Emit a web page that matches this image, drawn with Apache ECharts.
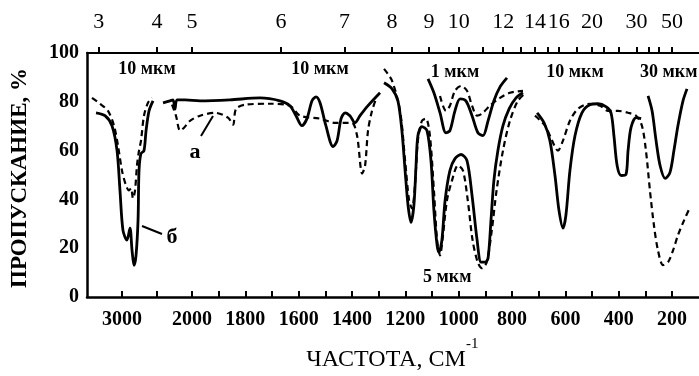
<!DOCTYPE html>
<html><head><meta charset="utf-8">
<script src="https://cdn.jsdelivr.net/npm/echarts@6/dist/echarts.min.js"></script>
<style>html,body{margin:0;padding:0;background:#fff}#c{width:699px;height:376px}</style>
</head><body><div id="c"></div>
<script>
// ---- axes data ----
const bottomTickFreqs = [3000,2500,2000,1900,1800,1700,1600,1500,1400,1300,1200,1100,1000,900,800,700,600,500,400,300,200];
const bottomLabelFreqs = [3000,2000,1800,1600,1400,1200,1000,800,600,400,200];
const topTickMicrons = [3,4,5,6,7,8,9,10,11,12,13,14,15,16,18,20,22,25,30,35,40,50];
const topLabelMicrons = [3,4,5,6,7,8,9,10,12,14,16,20,30,50];
const yTicks = [0,20,40,60,80,100];

// ---- spectra: [frequency cm-1, transmittance %], one array per recorded segment ----
// curve б (solid)
const solidSeg1 = [[3371,75.5],[3243,74.3],[3143,70.2],[3071,60],[3029,43.7],[2986,27.3],[2929,23.3],[2886,28.2],[2857,19.2],[2829,13],[2800,17],[2771,31.4],[2757,51.8],[2729,58.8],[2686,60],[2657,68],[2614,76.3],[2557,80.4]];
const solidSeg2 = [[2414,79.6],[2314,80.4],[2271,80.8],[2243,77],[2214,80.8],[2100,80.8],[1970,80.4],[1858,80.8],[1745,81.6],[1670,80.4],[1633,78.4],[1610,74.3],[1588,70.2],[1569,73.1],[1550,80.4],[1535,82],[1520,79.6],[1498,70.2],[1471,61.6],[1456,64.1],[1441,73.1],[1426,75.5],[1408,74.3],[1389,71.4],[1370,74.3],[1340,78.4],[1295,83.7]];
const solidSeg3thick = [[1280,87.8],[1250,85.3],[1228,80.4],[1213,68.2],[1201,51.8],[1190,37.6],[1179,30.6],[1168,37.6],[1160,53.9],[1153,66.1],[1138,69.8],[1119,68.2],[1104,55.9],[1093,35.5],[1081,21.2],[1074,18.4],[1063,23.3],[1051,39.6],[1033,51.8],[1014,56.7],[991,58.4],[969,55.9],[950,41.6],[931,23.3],[916,14.3],[901,14.3],[890,15.9],[879,31.4],[868,47.8],[853,60],[834,70.2],[811,77.1],[785,81.6],[759,83.7]];
const solidSeg3thin = [[1115,89.4],[1093,83.7],[1070,75.5],[1048,67.3],[1033,68.2],[1014,76.3],[995,81.2],[973,80.4],[950,74.3],[928,67.3],[909,66.1],[890,72.2],[868,80.4],[845,86.1],[819,89.8]];
const solidSeg4 = [[706,75.5],[680,71.4],[658,64.1],[639,49.8],[624,35.5],[609,28.2],[598,33.5],[583,51.8],[564,66.1],[538,75.5],[508,78.8],[478,79.2],[448,78],[429,75.5],[418,66.1],[406,53.9],[391,49.8],[373,50.2],[365,60],[354,69.4],[335,73.5],[316,73.1]];
const solidSeg5 = [[290,82.4],[275,76.3],[260,64.1],[245,53.9],[226,48.6],[208,51],[193,60],[178,70.2],[159,80.4],[144,85.3]];
// curve а (dashed)
const dashSeg1 = [[3429,81.6],[3314,79.2],[3200,76.3],[3114,70.2],[3057,62],[3000,51.8],[2943,45.7],[2900,43.7],[2871,44.5],[2843,40.4],[2814,43.7],[2786,53.9],[2757,60],[2729,64],[2686,74.3],[2629,79.6],[2571,81.6]];
const dashSeg2 = [[2286,78.8],[2229,74.3],[2171,68.2],[2114,69.4],[2029,72.2],[1970,74.3],[1914,75.5],[1865,73.5],[1846,70.6],[1835,77.1],[1801,78.8],[1708,79.2],[1633,78.4],[1595,74.3],[1520,73.1],[1464,71.4],[1426,71.4],[1400,71.4],[1381,66.1],[1362,50.6],[1351,53.9],[1340,68.2],[1325,76.3],[1310,81.2]];
const dashSeg3thick = [[1280,93.5],[1250,88.6],[1220,76.3],[1201,55.9],[1186,39.6],[1175,36.3],[1164,45.7],[1153,64.1],[1138,72.2],[1123,73.1],[1108,66.1],[1093,43.7],[1081,23.3],[1070,17.1],[1059,25.3],[1044,39.6],[1025,47.8],[1003,53.9],[984,51.8],[966,39.6],[948,23.3],[929,14.3],[913,11.8],[895,14.3],[876,27.3],[858,43.7],[834,60],[808,72.2],[778,80.4],[748,83.7]];
const dashSeg3thin = [[1070,82.4],[1048,76.3],[1033,78.4],[1014,84.5],[991,86.5],[969,84.5],[950,78.4],[931,74.3],[913,75.1],[883,78.4],[845,81.6],[808,83.7],[759,84.5]];
const dashSeg45 = [[714,74.3],[676,70.2],[650,64.1],[628,60],[609,64.1],[583,72.2],[553,77.1],[508,79.2],[470,78.4],[440,76.3],[403,76.3],[365,75.5],[335,74.3],[313,70.2],[298,60],[283,43.7],[268,29.4],[253,19.2],[234,13.1],[215,14.3],[196,19.2],[178,25.3],[155,31.4],[133,36.7]];

const solidSegments = [solidSeg1, solidSeg2, solidSeg3thick, solidSeg3thin, solidSeg4, solidSeg5];
const dashSegments = [dashSeg1, dashSeg2, dashSeg3thick, dashSeg3thin, dashSeg45];

// ---- piecewise-linear frequency scale (compressed above 2000 cm-1) ----
const BREAK = 2000, HI_RATIO = 0.2625;
function u(f){ return f <= BREAK ? BREAK - f : -(f - BREAK) * HI_RATIO; }
const X_MIN = u(3500), X_MAX = 1901;

function nearestLabel(list, conv){
  return function(v){
    let best = list[0], bd = Infinity;
    list.forEach(l => { const d = Math.abs(conv(l) - v); if (d < bd){ bd = d; best = l; } });
    return String(best);
  };
}
const mu = m => u(10000 / m);

const SERIF = '"Liberation Serif","DejaVu Serif",serif';
const series = [];
solidSegments.forEach(seg => series.push({
  type:'line', data: seg.map(p => [u(p[0]), p[1]]), showSymbol:false, smooth:0.3,
  lineStyle:{color:'#000', width:2.8}, silent:true
}));
dashSegments.forEach(seg => series.push({
  type:'line', data: seg.map(p => [u(p[0]), p[1]]), showSymbol:false, smooth:0.3,
  lineStyle:{color:'#000', width:2.2, type:[6,4]}, silent:true
}));

const chart = echarts.init(document.getElementById('c'), null, {renderer:'canvas'});
chart.setOption({
  animation:false,
  backgroundColor:'#fff',
  grid:{left:87, right:0, top:53, bottom:79, containLabel:false},
  xAxis:[{
    type:'value', position:'bottom', min:X_MIN, max:X_MAX,
    splitLine:{show:false},
    axisLine:{show:true, onZero:false, lineStyle:{color:'#000', width:2.5}},
    axisTick:{show:true, inside:true, length:6, lineStyle:{color:'#000', width:2}, customValues: bottomTickFreqs.map(u)},
    axisLabel:{show:true, customValues: bottomLabelFreqs.map(u), formatter: nearestLabel(bottomLabelFreqs, u),
      fontFamily:SERIF, fontWeight:'bold', fontSize:20, color:'#000', margin:13}
  },{
    type:'value', position:'top', min:X_MIN, max:X_MAX,
    splitLine:{show:false},
    axisLine:{show:true, onZero:false, lineStyle:{color:'#000', width:2}},
    axisTick:{show:true, inside:false, length:6, lineStyle:{color:'#000', width:2}, customValues: topTickMicrons.map(mu)},
    axisLabel:{show:true, customValues: topLabelMicrons.map(mu), formatter: nearestLabel(topLabelMicrons, mu),
      fontFamily:SERIF, fontSize:22, color:'#000', margin:20}
  }],
  yAxis:{
    type:'value', min:0, max:100, interval:20,
    splitLine:{show:false},
    axisLine:{show:true, onZero:false, lineStyle:{color:'#000', width:2.5}},
    axisTick:{show:false},
    axisLabel:{fontFamily:SERIF, fontWeight:'bold', fontSize:20, color:'#000', margin:8}
  },
  series: series,
  graphic:[
    {type:'text', x:20, y:178, rotation:Math.PI/2, style:{text:'ПРОПУСКАНИЕ, %', font:'bold 23px '+SERIF, fill:'#000', align:'center', verticalAlign:'middle'}},
    {type:'text', x:386, y:360, style:{text:'ЧАСТОТА, СМ', font:'24px '+SERIF, fill:'#000', align:'center', verticalAlign:'middle'}},
    {type:'text', x:466, y:344, style:{text:'-1', font:'15px '+SERIF, fill:'#000', align:'left', verticalAlign:'middle'}},
    {type:'text', x:147, y:69, style:{text:'10 мкм', font:'bold 18px '+SERIF, fill:'#000', align:'center', verticalAlign:'middle'}},
    {type:'text', x:320, y:69, style:{text:'10 мкм', font:'bold 18px '+SERIF, fill:'#000', align:'center', verticalAlign:'middle'}},
    {type:'text', x:455, y:72, style:{text:'1 мкм', font:'bold 18px '+SERIF, fill:'#000', align:'center', verticalAlign:'middle'}},
    {type:'text', x:575, y:72, style:{text:'10 мкм', font:'bold 18px '+SERIF, fill:'#000', align:'center', verticalAlign:'middle'}},
    {type:'text', x:640, y:72, style:{text:'30 мкм', font:'bold 18px '+SERIF, fill:'#000', align:'left', verticalAlign:'middle'}},
    {type:'text', x:423, y:277, style:{text:'5 мкм', font:'bold 18px '+SERIF, fill:'#000', align:'left', verticalAlign:'middle'}},
    {type:'text', x:195, y:152, style:{text:'а', font:'bold 22px '+SERIF, fill:'#000', align:'center', verticalAlign:'middle'}},
    {type:'text', x:172, y:237, style:{text:'б', font:'bold 22px '+SERIF, fill:'#000', align:'center', verticalAlign:'middle'}},
    {type:'line', shape:{x1:201, y1:136, x2:213, y2:116}, style:{stroke:'#000', lineWidth:2}},
    {type:'line', shape:{x1:162, y1:234, x2:142, y2:226}, style:{stroke:'#000', lineWidth:2}}
  ]
});
</script></body></html>
